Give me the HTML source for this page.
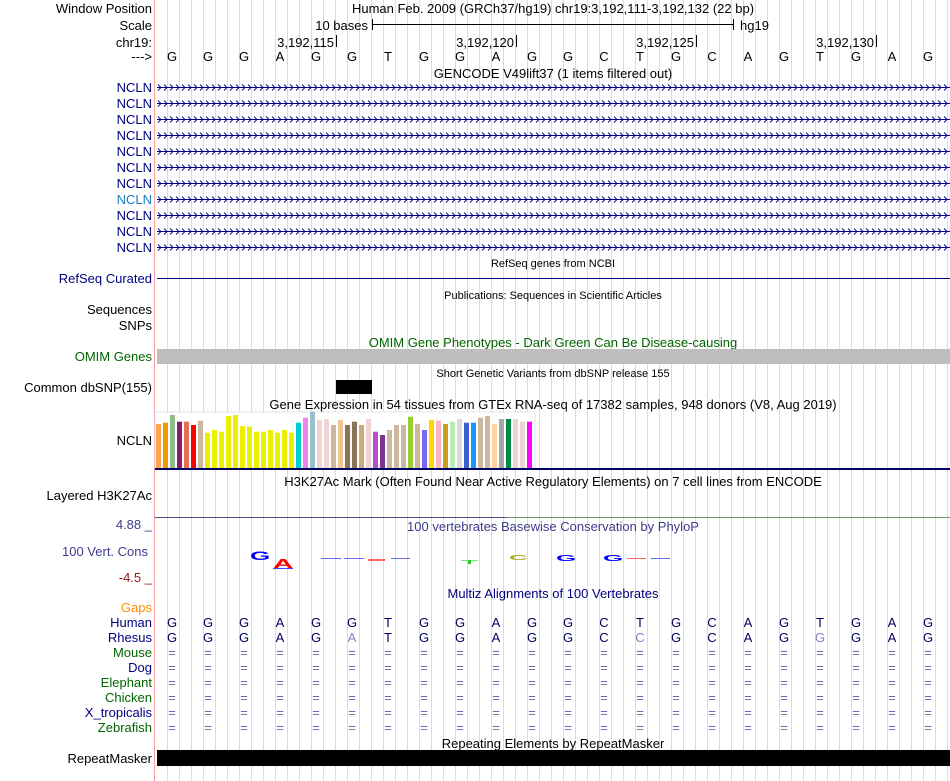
<!DOCTYPE html>
<html><head><meta charset="utf-8"><style>
html,body{margin:0;padding:0;background:#fff}
svg{display:block}
text{font-family:"Liberation Sans",sans-serif}
</style></head><body>
<svg width="950" height="781" viewBox="0 0 950 781" xmlns="http://www.w3.org/2000/svg">
<defs>
<pattern id="grid" patternUnits="userSpaceOnUse" x="167" y="0" width="12" height="10">
<rect x="0" y="0" width="1" height="10" fill="#d8d8f4"/>
</pattern>
<pattern id="chevs" patternUnits="userSpaceOnUse" x="157" y="84" width="6" height="16">
<polyline points="1,0.5 4,3.5 1,6.5" fill="none" stroke="#000080" stroke-width="0.9"/>
</pattern>
</defs>
<rect x="157" y="0" width="793" height="781" fill="url(#grid)"/>
<rect x="154" y="0" width="1" height="781" fill="#f4a0a0"/>

<g font-size="13" fill="#000" text-anchor="end">
<text x="152" y="13">Window Position</text>
<text x="152" y="30">Scale</text>
<text x="152" y="47">chr19:</text>
<text x="152" y="61">---&gt;</text>
</g>
<text x="553" y="13" font-size="13" text-anchor="middle">Human Feb. 2009 (GRCh37/hg19)   chr19:3,192,111-3,192,132 (22 bp)</text>
<text x="368" y="30" font-size="13" text-anchor="end">10 bases</text>
<rect x="372" y="24" width="361" height="1" fill="#000"/>
<rect x="372" y="19" width="1" height="11" fill="#000"/>
<rect x="733" y="19" width="1" height="11" fill="#000"/>
<text x="740" y="30" font-size="13">hg19</text>
<g font-size="13" text-anchor="end">
<text x="334" y="47">3,192,115</text><rect x="336" y="35" width="1" height="12"/>
<text x="514" y="47">3,192,120</text><rect x="516" y="35" width="1" height="12"/>
<text x="694" y="47">3,192,125</text><rect x="696" y="35" width="1" height="12"/>
<text x="874" y="47">3,192,130</text><rect x="876" y="35" width="1" height="12"/>
</g>
<text font-size="13" text-anchor="middle" y="61" x="172 208 244 280 316 352 388 424 460 496 532 568 604 640 676 712 748 784 820 856 892 928">GGGAGGTGGAGGCTGCAGTGAG</text>

<text x="553" y="78" font-size="13" text-anchor="middle">GENCODE V49lift37 (1 items filtered out)</text>
<g font-size="13" fill="#000080" text-anchor="end">
<text x="152" y="92">NCLN</text><text x="152" y="108">NCLN</text><text x="152" y="124">NCLN</text><text x="152" y="140">NCLN</text>
<text x="152" y="156">NCLN</text><text x="152" y="172">NCLN</text><text x="152" y="188">NCLN</text>
<text x="152" y="204" fill="#1a7cc0">NCLN</text>
<text x="152" y="220">NCLN</text><text x="152" y="236">NCLN</text><text x="152" y="252">NCLN</text>
</g>
<g fill="#000080">
<rect x="157" y="87" width="793" height="1"/><rect x="157" y="103" width="793" height="1"/><rect x="157" y="119" width="793" height="1"/><rect x="157" y="135" width="793" height="1"/><rect x="157" y="151" width="793" height="1"/><rect x="157" y="167" width="793" height="1"/><rect x="157" y="183" width="793" height="1"/><rect x="157" y="199" width="793" height="1"/><rect x="157" y="215" width="793" height="1"/><rect x="157" y="231" width="793" height="1"/><rect x="157" y="247" width="793" height="1"/>
</g>
<rect x="157" y="84" width="793" height="168" fill="url(#chevs)"/>

<text x="553" y="267" font-size="11" text-anchor="middle">RefSeq genes from NCBI</text>
<text x="152" y="283" font-size="13" fill="#000080" text-anchor="end">RefSeq Curated</text>
<rect x="157" y="278" width="793" height="1" fill="#000080"/>
<text x="553" y="299" font-size="11" text-anchor="middle">Publications: Sequences in Scientific Articles</text>
<text x="152" y="314" font-size="13" text-anchor="end">Sequences</text>
<text x="152" y="330" font-size="13" text-anchor="end">SNPs</text>
<text x="553" y="347" font-size="13" fill="#006400" text-anchor="middle">OMIM Gene Phenotypes - Dark Green Can Be Disease-causing</text>
<text x="152" y="361" font-size="13" fill="#006400" text-anchor="end">OMIM Genes</text>
<rect x="157" y="349" width="793" height="15" fill="#bebebe"/>
<text x="553" y="377" font-size="11" text-anchor="middle">Short Genetic Variants from dbSNP release 155</text>
<text x="152" y="392" font-size="13" text-anchor="end">Common dbSNP(155)</text>
<rect x="336" y="380" width="36" height="14" fill="#000"/>

<text x="553" y="409" font-size="13" text-anchor="middle">Gene Expression in 54 tissues from GTEx RNA-seq of 17382 samples, 948 donors (V8, Aug 2019)</text>
<text x="152" y="445" font-size="13" text-anchor="end">NCLN</text>
<rect x="155" y="412" width="380" height="56" fill="#fff" stroke="#e4e4e4" stroke-width="1"/>
<g>
<rect x="156" y="424" width="5" height="44" fill="#FFA54F"/>
<rect x="163" y="422.7" width="5" height="45.3" fill="#EE9A00"/>
<rect x="170" y="415" width="5" height="53" fill="#8FBC8F"/>
<rect x="177" y="421.7" width="5" height="46.3" fill="#8B1C62"/>
<rect x="184" y="421.7" width="5" height="46.3" fill="#EE6A50"/>
<rect x="191" y="425" width="5" height="43" fill="#FF0000"/>
<rect x="198" y="420.7" width="5" height="47.3" fill="#CDB79E"/>
<rect x="205" y="432.7" width="5" height="35.3" fill="#EEEE00"/>
<rect x="212" y="430" width="5" height="38" fill="#EEEE00"/>
<rect x="219" y="431.7" width="5" height="36.3" fill="#EEEE00"/>
<rect x="226" y="416" width="5" height="52" fill="#EEEE00"/>
<rect x="233" y="415" width="5" height="53" fill="#EEEE00"/>
<rect x="240" y="426" width="5" height="42" fill="#EEEE00"/>
<rect x="247" y="426.7" width="5" height="41.3" fill="#EEEE00"/>
<rect x="254" y="431.7" width="5" height="36.3" fill="#EEEE00"/>
<rect x="261" y="431.7" width="5" height="36.3" fill="#EEEE00"/>
<rect x="268" y="430" width="5" height="38" fill="#EEEE00"/>
<rect x="275" y="432.7" width="5" height="35.3" fill="#EEEE00"/>
<rect x="282" y="430" width="5" height="38" fill="#EEEE00"/>
<rect x="289" y="432.7" width="5" height="35.3" fill="#EEEE00"/>
<rect x="296" y="422.7" width="5" height="45.3" fill="#00CED1"/>
<rect x="303" y="417.7" width="5" height="50.3" fill="#EE82EE"/>
<rect x="310" y="411.7" width="5" height="56.3" fill="#9AC0CD"/>
<rect x="317" y="420" width="5" height="48" fill="#EED5D2"/>
<rect x="324" y="419" width="5" height="49" fill="#EED5D2"/>
<rect x="331" y="425" width="5" height="43" fill="#CDB79E"/>
<rect x="338" y="420" width="5" height="48" fill="#EEC591"/>
<rect x="345" y="425" width="5" height="43" fill="#8B7355"/>
<rect x="352" y="421.7" width="5" height="46.3" fill="#8B7355"/>
<rect x="359" y="425" width="5" height="43" fill="#CDAA7D"/>
<rect x="366" y="419" width="5" height="49" fill="#EED5D2"/>
<rect x="373" y="431.7" width="5" height="36.3" fill="#B452CD"/>
<rect x="380" y="435" width="5" height="33" fill="#7A378B"/>
<rect x="387" y="430" width="5" height="38" fill="#CDB79E"/>
<rect x="394" y="425" width="5" height="43" fill="#CDB79E"/>
<rect x="401" y="425" width="5" height="43" fill="#CDB79E"/>
<rect x="408" y="416.7" width="5" height="51.3" fill="#9ACD32"/>
<rect x="415" y="424" width="5" height="44" fill="#CDB79E"/>
<rect x="422" y="430" width="5" height="38" fill="#7B68EE"/>
<rect x="429" y="420" width="5" height="48" fill="#FFD700"/>
<rect x="436" y="420.7" width="5" height="47.3" fill="#FFB6C1"/>
<rect x="443" y="424" width="5" height="44" fill="#CD9B1D"/>
<rect x="450" y="421.7" width="5" height="46.3" fill="#B4EEB4"/>
<rect x="457" y="419" width="5" height="49" fill="#D9D9D9"/>
<rect x="464" y="422.7" width="5" height="45.3" fill="#3A5FCD"/>
<rect x="471" y="422.7" width="5" height="45.3" fill="#1E90FF"/>
<rect x="478" y="417.7" width="5" height="50.3" fill="#CDB79E"/>
<rect x="485" y="416" width="5" height="52" fill="#CDB79E"/>
<rect x="492" y="424" width="5" height="44" fill="#FFD39B"/>
<rect x="499" y="419" width="5" height="49" fill="#A6A6A6"/>
<rect x="506" y="419" width="5" height="49" fill="#008B45"/>
<rect x="513" y="419" width="5" height="49" fill="#EED5D2"/>
<rect x="520" y="421.7" width="5" height="46.3" fill="#EED5D2"/>
<rect x="527" y="421.7" width="5" height="46.3" fill="#FF00FF"/>
</g>
<rect x="155" y="468" width="795" height="2" fill="#000060"/>

<text x="553" y="486" font-size="13" text-anchor="middle">H3K27Ac Mark (Often Found Near Active Regulatory Elements) on 7 cell lines from ENCODE</text>
<text x="152" y="500" font-size="13" text-anchor="end">Layered H3K27Ac</text>
<rect x="155" y="517" width="352" height="1" fill="#4a5080"/>
<rect x="507" y="517" width="443" height="1" fill="#6a9a6a"/>

<text x="553" y="531" font-size="13" fill="#3c3c8c" text-anchor="middle">100 vertebrates Basewise Conservation by PhyloP</text>
<text x="152" y="529" font-size="13" fill="#3c3c8c" text-anchor="end">4.88 _</text>
<text x="148" y="556" font-size="13" fill="#3c3c8c" text-anchor="end">100 Vert. Cons</text>
<text x="152" y="582" font-size="13" fill="#8b1a1a" text-anchor="end">-4.5 _</text>
<g font-weight="bold" font-size="20">
<text x="250" y="560" fill="#0000ff" transform="translate(250,560) scale(1.3,0.58) translate(-250,-560)">G</text>
<text x="273" y="568" fill="#ff0000" transform="translate(273,568) scale(1.4,0.65) translate(-273,-568)">A</text>
<text x="509" y="560" fill="#aaaa22" transform="translate(509,560) scale(1.3,0.36) translate(-509,-560)">C</text>
<text x="556" y="561" fill="#0000ff" transform="translate(556,561) scale(1.3,0.42) translate(-556,-561)">G</text>
<text x="603" y="561" fill="#0000ff" transform="translate(603,561) scale(1.3,0.42) translate(-603,-561)">G</text>
</g>
<rect x="273" y="568" width="20" height="1" fill="#4444ff"/>
<g fill="#6666ee">
<rect x="321" y="558" width="20" height="1"/><rect x="344" y="558" width="20" height="1"/><rect x="391" y="558" width="19" height="1"/><rect x="651" y="558" width="19" height="1"/>
</g>
<rect x="368" y="559" width="17" height="2" fill="#ff6666"/>
<rect x="627" y="558" width="19" height="1" fill="#ff6666"/>
<rect x="461" y="560" width="17" height="1" fill="#66ee66"/>
<rect x="468" y="560" width="3" height="4" fill="#22cc22"/>

<text x="553" y="598" font-size="13" fill="#000080" text-anchor="middle">Multiz Alignments of 100 Vertebrates</text>
<g font-size="13" text-anchor="end">
<text x="152" y="612" fill="#ff8c00">Gaps</text>
<text x="152" y="627" fill="#000080">Human</text>
<text x="152" y="642" fill="#000080">Rhesus</text>
<text x="152" y="657" fill="#006400">Mouse</text>
<text x="152" y="672" fill="#000080">Dog</text>
<text x="152" y="687" fill="#006400">Elephant</text>
<text x="152" y="702" fill="#006400">Chicken</text>
<text x="152" y="717" fill="#000080">X_tropicalis</text>
<text x="152" y="732" fill="#006400">Zebrafish</text>
</g>
<text font-size="13" fill="#000060" text-anchor="middle" y="627" x="172 208 244 280 316 352 388 424 460 496 532 568 604 640 676 712 748 784 820 856 892 928">GGGAGGTGGAGGCTGCAGTGAG</text>
<text font-size="13" fill="#000060" text-anchor="middle" y="642" x="172 208 244 280 316 388 424 460 496 532 568 604 676 712 748 784 856 892 928">GGGAGTGGAGGCGCAGGAG</text>
<g font-size="13" fill="#8080c8" text-anchor="middle">
<text x="352" y="642">A</text><text x="640" y="642">C</text><text x="820" y="642">G</text>
</g>
<g font-size="13" fill="#6a6ab0" text-anchor="middle">
<text y="657" x="172 208 244 280 316 352 388 424 460 496 532 568 604 640 676 712 748 784 820 856 892 928">======================</text>
<text y="672" x="172 208 244 280 316 352 388 424 460 496 532 568 604 640 676 712 748 784 820 856 892 928">======================</text>
<text y="687" x="172 208 244 280 316 352 388 424 460 496 532 568 604 640 676 712 748 784 820 856 892 928">======================</text>
<text y="702" x="172 208 244 280 316 352 388 424 460 496 532 568 604 640 676 712 748 784 820 856 892 928">======================</text>
<text y="717" x="172 208 244 280 316 352 388 424 460 496 532 568 604 640 676 712 748 784 820 856 892 928">======================</text>
<text y="732" x="172 208 244 280 316 352 388 424 460 496 532 568 604 640 676 712 748 784 820 856 892 928">======================</text>
</g>

<rect x="157" y="750" width="793" height="16" fill="#000"/>
<text x="553" y="748" font-size="13" text-anchor="middle">Repeating Elements by RepeatMasker</text>
<text x="152" y="763" font-size="13" text-anchor="end">RepeatMasker</text>
</svg>
</body></html>
